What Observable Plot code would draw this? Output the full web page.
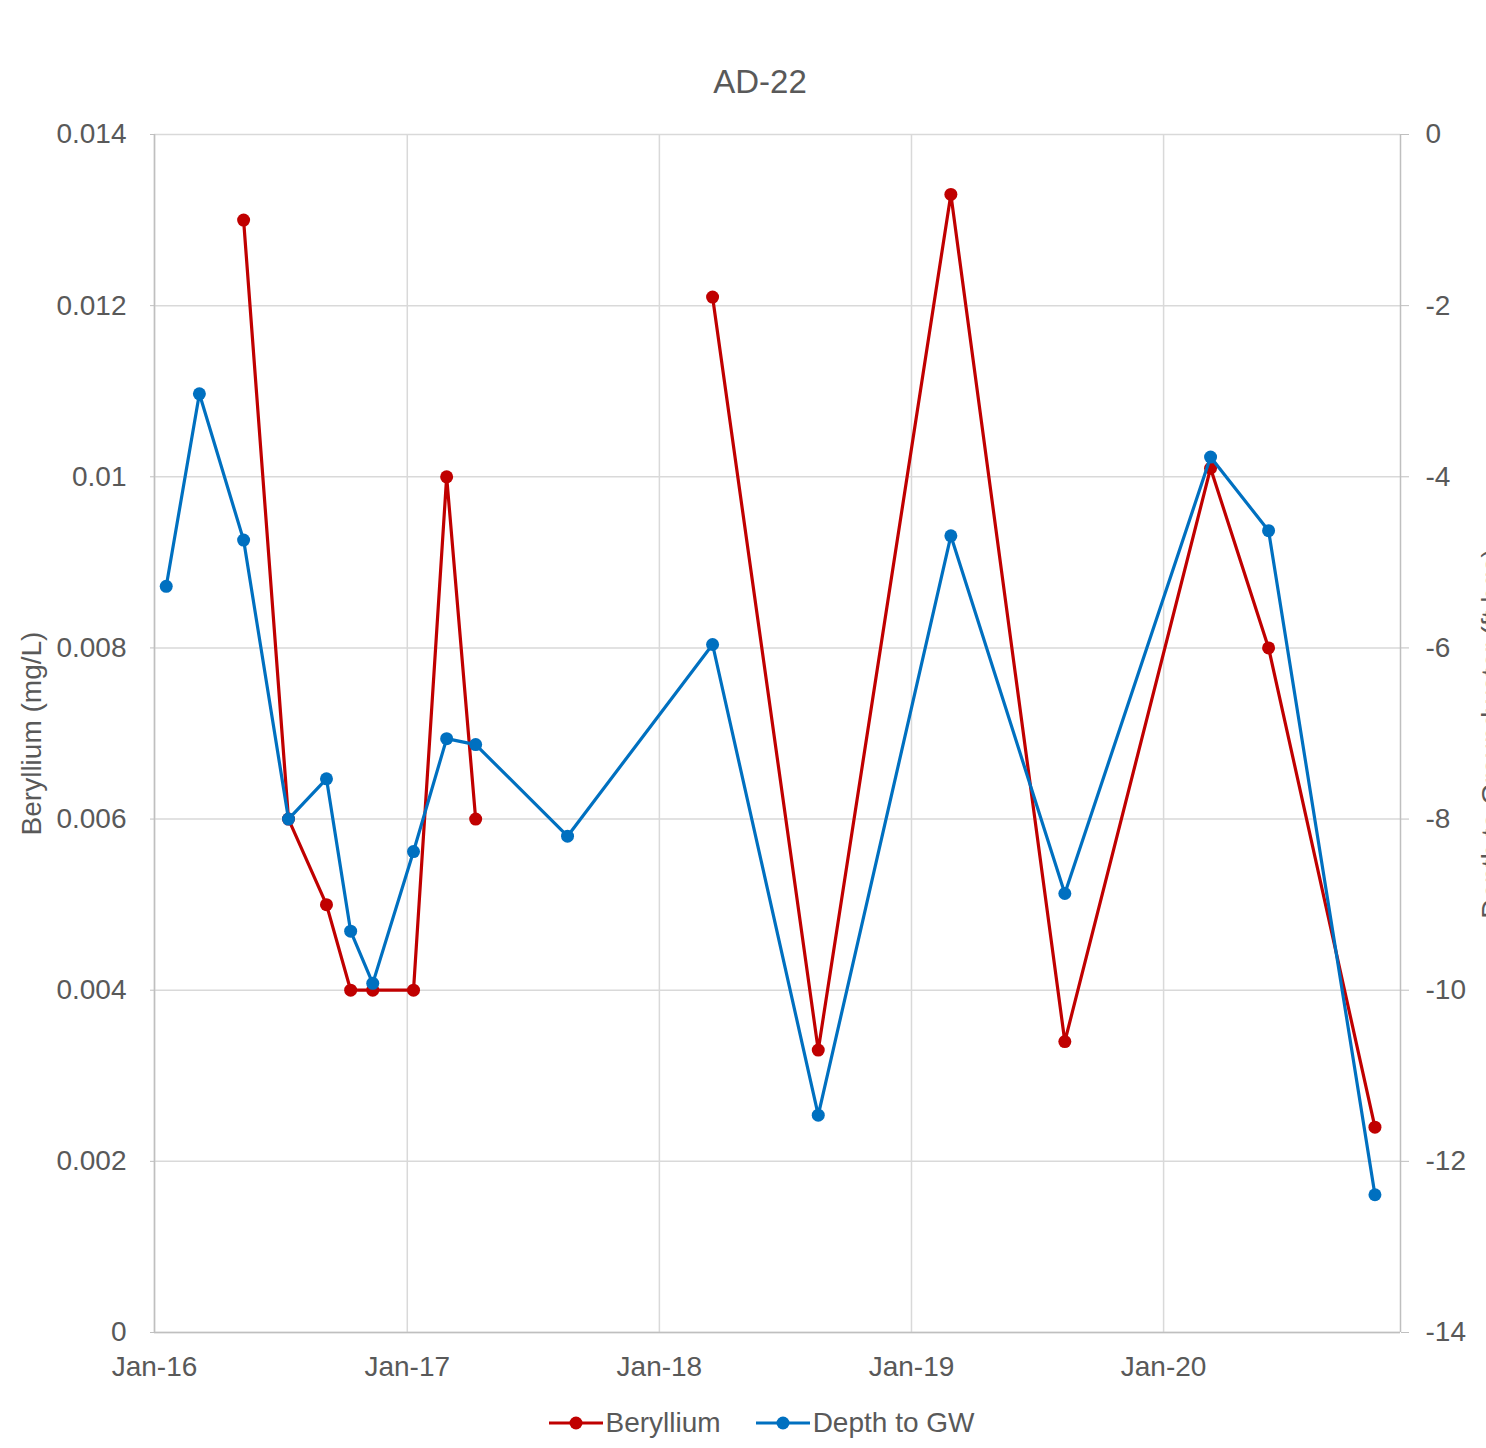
<!DOCTYPE html>
<html><head><meta charset="utf-8">
<script src="https://cdn.jsdelivr.net/npm/d3@7"></script>
<script src="https://cdn.jsdelivr.net/npm/@observablehq/plot@0.6"></script>
<style>
html,body{margin:0;padding:0;background:#fff;overflow:hidden;}
body{font-family:"Liberation Sans",Arial,sans-serif;color:#595959;}
#wrap{position:relative;width:1486px;height:1448px;overflow:hidden;}
#title{position:absolute;top:61px;left:0;width:1520px;text-align:center;font-size:33px;line-height:42px;}
#chart{position:absolute;top:100px;left:0;}
#legend{position:absolute;top:1403px;left:0;width:1522px;display:flex;justify-content:center;align-items:center;font-size:28px;line-height:40px;gap:34px;}
.item{display:flex;align-items:center;}
.item svg{margin-right:2px;}
</style></head><body>
<div id="wrap">
<div id="title">AD-22</div>
<div id="chart"></div>
<div id="legend"></div>
</div>
<script>
// Sample dates
const dates = ["2016-01-18","2016-03-06","2016-05-09","2016-07-13","2016-09-06","2016-10-11","2016-11-12","2017-01-10","2017-02-27","2017-04-10","2017-08-21","2018-03-19","2018-08-19","2019-02-27","2019-08-11","2020-03-09","2020-06-01","2020-11-02"];
// Beryllium (mg/L), null = no sample
const beryllium = [null,null,0.013,0.006,0.005,0.004,0.004,0.004,0.010,0.006,null,0.0121,0.0033,0.0133,0.0034,0.0101,0.0080,0.0024];
// Depth to GW (ft)
const depthGW = [-5.28,-3.03,-4.74,-8.0,-7.53,-9.31,-9.92,-8.38,-7.06,-7.13,-8.20,-5.96,-11.46,-4.69,-8.87,-3.77,-4.63,-12.39];
// Axis ticks
const yearTicks = ["2016-01-01","2017-01-01","2018-01-01","2019-01-01","2020-01-01"];
const leftTicks = [0,0.002,0.004,0.006,0.008,0.010,0.012,0.014];
const rightTicks = [-14,-12,-10,-8,-6,-4,-2,0];

const RED = "#C00000", BLUE = "#0070C0", GRID = "#d9d9d9", AXIS = "#bfbfbf";
const toLeft = d => (d + 14) * 0.001; // map right-axis depth onto left scale
const rows = dates.map((d,i) => ({date:new Date(d+"T00:00:00Z"), be:beryllium[i], gw:depthGW[i], gwL: toLeft(depthGW[i])}));
const xTicks = yearTicks.map(d => new Date(d+"T00:00:00Z"));
const xDomain = [new Date("2016-01-01T00:00:00Z"), new Date("2020-12-09T00:00:00Z")];
const fmtMon = d3.utcFormat("%b-%y");

const chart = Plot.plot({
  width: 1486, height: 1300,
  marginLeft: 154, marginRight: 86, marginTop: 34, marginBottom: 68,
  style: {fontFamily: '"Liberation Sans", Arial, sans-serif', fontSize: "28px", color: "#595959", background: "#fff", overflow: "visible"},
  x: {type: "utc", domain: xDomain},
  y: {domain: [0, 0.014]},
  marks: [
    Plot.gridY(leftTicks, {stroke: GRID, strokeOpacity: 1, strokeWidth: 1.5}),
    Plot.gridX(xTicks, {stroke: GRID, strokeOpacity: 1, strokeWidth: 1.5}),
    Plot.ruleX([xDomain[0]], {stroke: AXIS, strokeWidth: 1.5}),
    Plot.ruleX([xDomain[1]], {stroke: AXIS, strokeWidth: 1.5}),
    Plot.ruleY([0], {stroke: AXIS, strokeWidth: 1.5}),
    Plot.axisX(xTicks, {tickFormat: fmtMon, tickSize: 0, tickPadding: 24, label: null, fill: "#595959", fontSize: 28}),
    Plot.axisY(leftTicks, {anchor: "left", tickSize: 4, stroke: AXIS, tickPadding: 24,
      tickFormat: d => d === 0 ? "0" : String(+d.toFixed(3)), label: null, fill: "#595959", fontSize: 28}),
    Plot.axisY(rightTicks.map(toLeft), {anchor: "right", tickSize: 8, stroke: AXIS, tickPadding: 17,
      tickFormat: (d, i) => String(rightTicks[i]), label: null, fill: "#595959", fontSize: 28}),
    Plot.text(["Beryllium (mg/L)"], {frameAnchor: "left", textAnchor: "middle", dx: -122, rotate: -90, fill: "#595959", fontSize: 28}),
    Plot.text(["Depth to Groundwater (ft bgs)"], {frameAnchor: "right", textAnchor: "middle", dx: 92, rotate: -90, fill: "#595959", fontSize: 28}),
    Plot.line(rows, {x: "date", y: "be", stroke: RED, strokeWidth: 3.2, defined: d => d.be != null}),
    Plot.dot(rows.filter(d => d.be != null), {x: "date", y: "be", r: 6.5, fill: RED, stroke: "none"}),
    Plot.line(rows, {x: "date", y: "gwL", stroke: BLUE, strokeWidth: 3.2}),
    Plot.dot(rows, {x: "date", y: "gwL", r: 6.5, fill: BLUE, stroke: "none"})
  ]
});
document.getElementById("chart").appendChild(chart);

const legend = document.getElementById("legend");
[["Beryllium", RED], ["Depth to GW", BLUE]].forEach(([name, col]) => {
  const item = document.createElement("div");
  item.className = "item";
  item.innerHTML = `<svg width="56" height="20"><line x1="1" x2="55" y1="10" y2="10" stroke="${col}" stroke-width="3.2"/><circle cx="28" cy="10" r="6.5" fill="${col}"/></svg><span>${name}</span>`;
  legend.appendChild(item);
});
</script>
</body></html>
